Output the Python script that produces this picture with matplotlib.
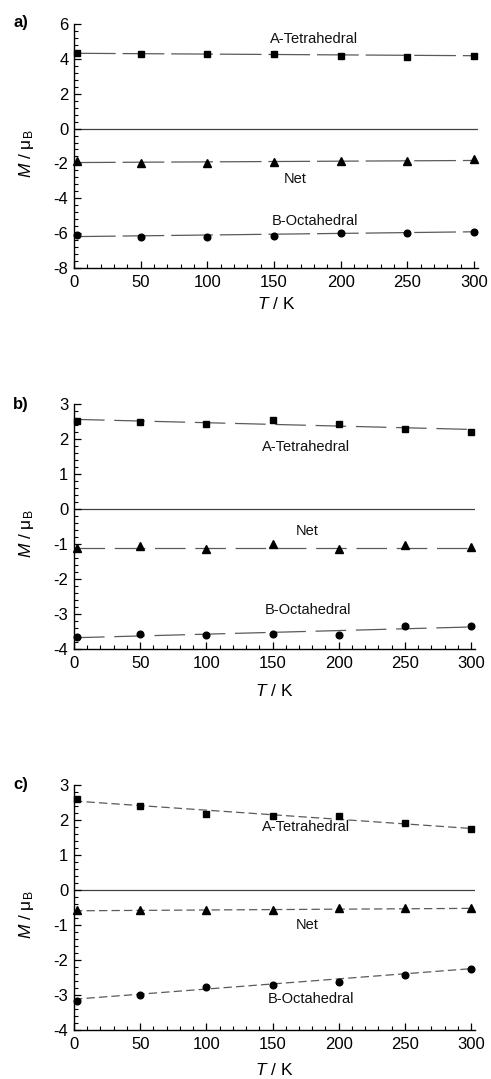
import matplotlib
matplotlib.use("Agg")
import matplotlib.pyplot as plt
import numpy as np
from matplotlib.ticker import MultipleLocator

plt.rcParams['font.family'] = ['Liberation Sans', 'DejaVu Sans']
plt.rcParams['mathtext.fontset'] = 'custom'
plt.rcParams['mathtext.rm'] = 'Liberation Sans'
plt.rcParams['mathtext.it'] = 'Liberation Sans:italic'
plt.rcParams['lines.scale_dashes'] = False
plt.rcParams['axes.unicode_minus'] = False

# ---------------- data ----------------
T = [2, 50, 100, 150, 200, 250, 300]
fit_T = [0, 302]

# panel a
a_tet = [4.32, 4.25, 4.3, 4.25, 4.19, 4.13, 4.18]
a_net = [-1.85, -1.98, -1.95, -1.93, -1.85, -1.85, -1.75]
a_oct = [-6.1, -6.2, -6.2, -6.17, -5.98, -5.98, -5.92]
a_tet_fit = [4.32, 4.18]
a_net_fit = [-1.95, -1.83]
a_oct_fit = [-6.2, -5.92]

# panel b
b_tet = [2.53, 2.49, 2.44, 2.55, 2.44, 2.29, 2.22]
b_net = [-1.1, -1.05, -1.12, -0.98, -1.14, -1.02, -1.09]
b_oct = [-3.66, -3.56, -3.59, -3.56, -3.6, -3.33, -3.34]
b_tet_fit = [2.57, 2.28]
b_net_fit = [-1.11, -1.11]
b_oct_fit = [-3.67, -3.36]

# panel c
c_tet = [2.6, 2.41, 2.18, 2.12, 2.12, 1.91, 1.74]
c_net = [-0.58, -0.58, -0.57, -0.58, -0.52, -0.5, -0.52]
c_oct = [-3.18, -3.0, -2.76, -2.7, -2.64, -2.44, -2.26]
c_tet_fit = [2.55, 1.76]
c_net_fit = [-0.59, -0.52]
c_oct_fit = [-3.12, -2.24]

labels = ["A-Tetrahedral", "Net", "B-Octahedral"]
panel_tags = ["a)", "b)", "c)"]

# ---------------- layout ----------------
W, H = 491, 1079
fig = plt.figure(figsize=(W / 100, H / 100), dpi=100)

def rect(left, top, bottom, right):
    return [left / W, 1 - bottom / H, (right - left) / W, (bottom - top) / H]

panels = [
    dict(rect=rect(74, 24, 268, 478), ylim=(-8, 6), major=2,
         tet=a_tet, net=a_net, oct=a_oct,
         fits=(a_tet_fit, a_net_fit, a_oct_fit), dash=(30, 5),
         txt=[(180, 5.14), (166, -2.87), (181, -5.3)], tagy=23, xlab_y=-0.115),
    dict(rect=rect(74, 404.3, 649.3, 475), ylim=(-4, 3), major=1,
         tet=b_tet, net=b_net, oct=b_oct,
         fits=(b_tet_fit, b_net_fit, b_oct_fit), dash=(22, 7),
         txt=[(175, 1.79), (176, -0.62), (177, -2.88)], tagy=405, xlab_y=-0.138),
    dict(rect=rect(74, 785.3, 1030, 475), ylim=(-4, 3), major=1,
         tet=c_tet, net=c_net, oct=c_oct,
         fits=(c_tet_fit, c_net_fit, c_oct_fit), dash=(6, 3),
         txt=[(175, 1.8), (176, -0.99), (179, -3.1)], tagy=785, xlab_y=-0.131),
]

line_col = '#5a5a5a'
for i, p in enumerate(panels):
    ax = fig.add_axes(p['rect'])
    ax.set_xlim(0, 303)
    ax.set_ylim(*p['ylim'])
    for s in ('top', 'right'):
        ax.spines[s].set_visible(False)
    for s in ('left', 'bottom'):
        ax.spines[s].set_linewidth(1.0)
    ax.xaxis.set_major_locator(MultipleLocator(50))
    ax.xaxis.set_minor_locator(MultipleLocator(10))
    ax.yaxis.set_major_locator(MultipleLocator(p['major']))
    ax.yaxis.set_minor_locator(MultipleLocator(p['major'] / 5))
    ax.tick_params(which='both', direction='in', labelsize=12)
    ax.tick_params(which='major', length=5, width=0.9)
    ax.tick_params(which='minor', length=3, width=0.8)
    ax.tick_params(axis='x', pad=5)
    ax.tick_params(axis='y', pad=4)

    ax.axhline(0, color='#404040', lw=0.9, zorder=1)

    markers = ['s', '^', 'o']
    sizes = [4.6, 5.2, 4.8]
    series = [p['tet'], p['net'], p['oct']]
    for ser, fit, mk, ms in zip(series, p['fits'], markers, sizes):
        ax.plot(fit_T, fit, color=line_col, lw=0.9, dashes=p['dash'], zorder=2)
        ax.plot(T, ser, linestyle='none', marker=mk, color='black',
                markersize=ms, zorder=3, clip_on=False)

    for lab, (tx, ty) in zip(labels, p['txt']):
        ax.text(tx, ty, lab, fontsize=10.5, ha='center', va='center', color='#111111')

    ax.set_xlabel(r'$T$ / K', fontsize=12.5)
    ax.xaxis.set_label_coords(0.5, p['xlab_y'])
    ax.xaxis.label.set_va('top')
    ax.set_ylabel(r'$M$ / $\mathrm{\mu_B}$', fontsize=12.5)
    ax.yaxis.set_label_coords(-0.095, 0.47)

    fig.text(13 / W, 1 - p['tagy'] / H, panel_tags[i], fontsize=12,
             fontweight='bold', ha='left', va='center')

fig.savefig('out.png', dpi=100)
